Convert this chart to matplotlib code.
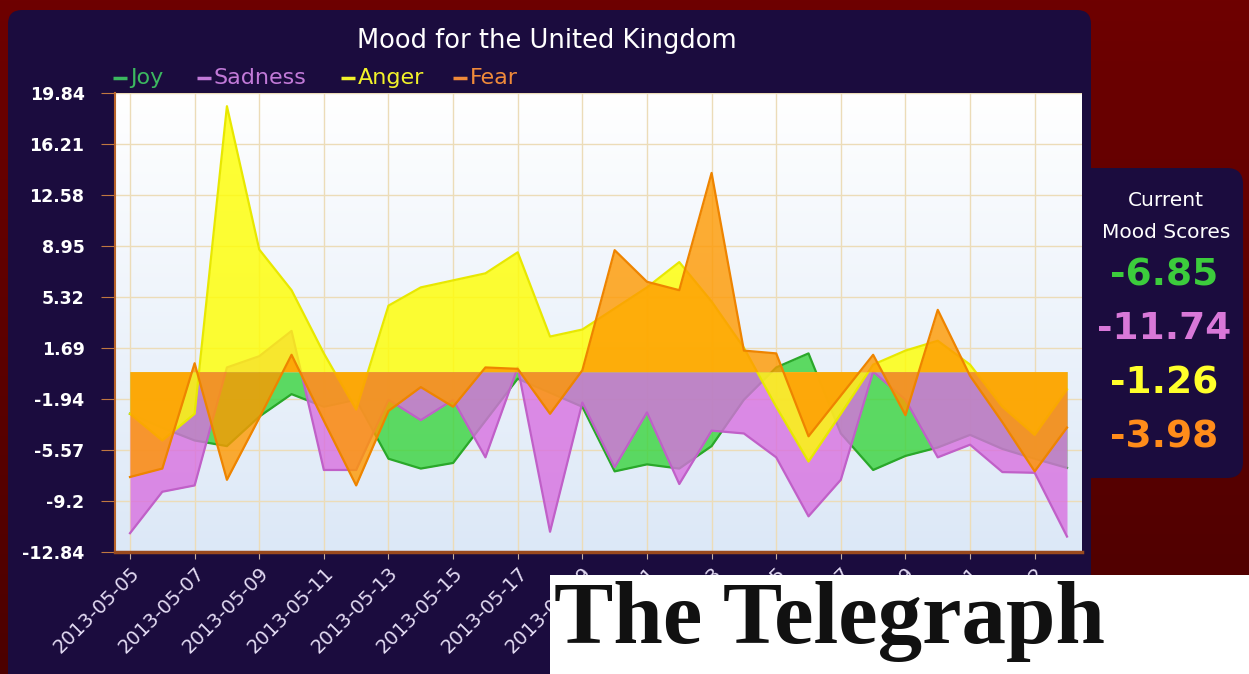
import matplotlib
matplotlib.use("Agg")
import matplotlib.pyplot as plt
import numpy as np
from matplotlib.patches import FancyBboxPatch, Rectangle
from matplotlib.colors import LinearSegmentedColormap

# ---------------- data ----------------
dates = ["2013-05-05", "2013-05-06", "2013-05-07", "2013-05-08", "2013-05-09",
         "2013-05-10", "2013-05-11", "2013-05-12", "2013-05-13", "2013-05-14",
         "2013-05-15", "2013-05-16", "2013-05-17", "2013-05-18", "2013-05-19",
         "2013-05-20", "2013-05-21", "2013-05-22", "2013-05-23", "2013-05-24",
         "2013-05-25", "2013-05-26", "2013-05-27", "2013-05-28", "2013-05-29",
         "2013-05-30", "2013-05-31", "2013-06-01", "2013-06-02", "2013-06-03"]

joy = [-3.0, -4.0, -4.9, -5.3, -3.2, -1.6, -2.5, -2.0, -6.2, -6.9,
       -6.5, -3.5, -0.5, -1.5, -2.5, -7.1, -6.6, -6.9, -5.3, -2.0,
       0.3, 1.3, -4.4, -7.0, -6.0, -5.4, -4.5, -5.5, -6.2, -6.85]
sadness = [-11.5, -8.55, -8.1, 0.3, 1.1, 2.9, -7.0, -7.0, -2.0, -3.45,
           -2.0, -6.1, 0.3, -11.4, -2.2, -6.8, -2.9, -8.0, -4.2, -4.4,
           -6.1, -10.3, -7.7, 0.0, -2.0, -6.1, -5.2, -7.15, -7.2, -11.74]
anger = [-3.0, -4.9, -3.0, 18.9, 8.7, 5.8, 1.3, -2.7, 4.7, 6.0,
         6.5, 7.0, 8.5, 2.5, 3.0, 4.5, 6.0, 7.8, 5.0, 1.7,
         -2.5, -6.4, -3.0, 0.5, 1.5, 2.2, 0.5, -2.5, -4.5, -1.26]
fear = [-7.5, -6.9, 0.6, -7.7, -3.3, 1.2, -3.5, -8.1, -2.8, -1.1,
        -2.5, 0.3, 0.2, -3.0, 0.1, 8.65, 6.4, 5.8, 14.15, 1.5,
        1.3, -4.6, -1.7, 1.2, -3.1, 4.4, -0.3, -3.6, -7.1, -3.98]

series_names = ["Joy", "Sadness", "Anger", "Fear"]
series_values = [joy, sadness, anger, fear]

y_ticks = [19.84, 16.21, 12.58, 8.95, 5.32, 1.69, -1.94, -5.57, -9.2, -12.84]
y_tick_labels = ["19.84", "16.21", "12.58", "8.95", "5.32", "1.69",
                 "-1.94", "-5.57", "-9.2", "-12.84"]
x_tick_labels = dates[::2]

title = "Mood for the United Kingdom"
panel_title = ["Current", "Mood Scores"]
logo_text = "The Telegraph"

# ---------------- style ----------------
fill_colors = ["#38d43c", "#d870e0", "#ffff00", "#ff9900"]
edge_colors = ["#2aa82a", "#c060c8", "#e8e800", "#ee8400"]
legend_text_colors = ["#3cb860", "#c27ad8", "#f2f22a", "#f08a3a"]
score_colors = ["#3ccc3c", "#d878d8", "#ffff2a", "#ff8c1a"]

W, H = 1249, 674
fig = plt.figure(figsize=(W / 100, H / 100), dpi=100)
fig.patch.set_facecolor("#600000")

# background layer (pixel coordinates)
bg = fig.add_axes([0, 0, 1, 1], zorder=0)
bg.set_xlim(0, W)
bg.set_ylim(H, 0)
bg.axis("off")
red_cmap = LinearSegmentedColormap.from_list("red", ["#6e0000", "#4c0000"])
bg.imshow(np.linspace(0, 1, 256).reshape(-1, 1), extent=[0, W, H, 0],
          cmap=red_cmap, aspect="auto", zorder=0)
navy = "#1b0c3e"
bg.add_patch(FancyBboxPatch((8, 10), 1083, 720,
                            boxstyle="round,pad=0,rounding_size=14",
                            fc=navy, ec="none", zorder=1))
bg.add_patch(FancyBboxPatch((1060, 168), 183, 310,
                            boxstyle="round,pad=0,rounding_size=16",
                            fc=navy, ec="none", zorder=1))

bg.text(547, 41, title, color="white", fontsize=18.5, ha="center", va="center",
        zorder=3)

# legend
legend_x = [113, 197, 341, 453]
for name, lx, lc in zip(series_names, legend_x, legend_text_colors):
    bg.plot([lx, lx + 14], [78, 78], color=lc, lw=2.5, zorder=3,
            solid_capstyle="butt")
    bg.text(lx + 17, 78, name, color=lc, fontsize=16, ha="left",
            va="center", zorder=3)

# right score panel
bg.text(1166, 200, panel_title[0], color="white", fontsize=14.5, ha="center",
        va="center", zorder=3)
bg.text(1166, 233, panel_title[1], color="white", fontsize=14.5, ha="center",
        va="center", zorder=3)
score_y = [275, 329, 383, 437]
for vals, sy, sc in zip(series_values, score_y, score_colors):
    bg.text(1164, sy, f"{vals[-1]:.2f}", color=sc, fontsize=27,
            fontweight="bold", ha="center", va="center", zorder=3)

# ---------------- main plot ----------------
px_left, px_right, px_top, px_bottom = 115, 1082, 93, 552
ax = fig.add_axes([px_left / W, (H - px_bottom) / H,
                   (px_right - px_left) / W, (px_bottom - px_top) / H], zorder=2)
x = np.arange(len(dates))
pad = 15 / ((1067 - 130) / (len(dates) - 1))
x0, x1 = -pad, len(dates) - 1 + pad
ax.set_xlim(x0, x1)
ax.set_ylim(-12.84, 19.84)

plot_cmap = LinearSegmentedColormap.from_list("pb", ["#dce8f7", "#ffffff"])
ax.imshow(np.linspace(0, 1, 256).reshape(-1, 1), extent=[x0, x1, -12.84, 19.84],
          origin="lower", cmap=plot_cmap, aspect="auto", zorder=0)

ax.set_xticks(x[::2])
ax.set_xticklabels(x_tick_labels, rotation=45, ha="right",
                   rotation_mode="anchor", color="#e4dcf4", fontsize=14)
ax.set_yticks(y_ticks)
ax.set_yticklabels(y_tick_labels, color="white", fontsize=12.5,
                   fontweight="bold")
ax.set_axisbelow(True)
ax.grid(True, color="#ecdcb8", lw=1)

for s in ["top", "right"]:
    ax.spines[s].set_visible(False)
ax.spines["left"].set_color("#b8642a")
ax.spines["left"].set_linewidth(1.5)
ax.spines["bottom"].set_color("#9a4a1e")
ax.spines["bottom"].set_linewidth(2.5)
ax.tick_params(axis="y", length=10, color="#c07840", pad=12)
ax.tick_params(axis="x", length=5, color="#c8b0a0", pad=3)

for i, (vals, fc, ec) in enumerate(zip(series_values, fill_colors, edge_colors)):
    ax.fill_between(x, 0, vals, color=fc, alpha=0.8, lw=0, zorder=2 + i)
    ax.plot(x, vals, color=ec, lw=1.6, zorder=2.5 + i)

# ---------------- overlay logo ----------------
top = fig.add_axes([0, 0, 1, 1], zorder=5)
top.set_xlim(0, W)
top.set_ylim(H, 0)
top.axis("off")
top.add_patch(Rectangle((550, 575), 700, 100, fc="white", ec="none"))
top.text(554, 621, logo_text, color="#111111", fontsize=64,
         family="Liberation Serif", fontweight="bold", ha="left", va="center")

fig.savefig("out.png", dpi=100, facecolor=fig.get_facecolor())
